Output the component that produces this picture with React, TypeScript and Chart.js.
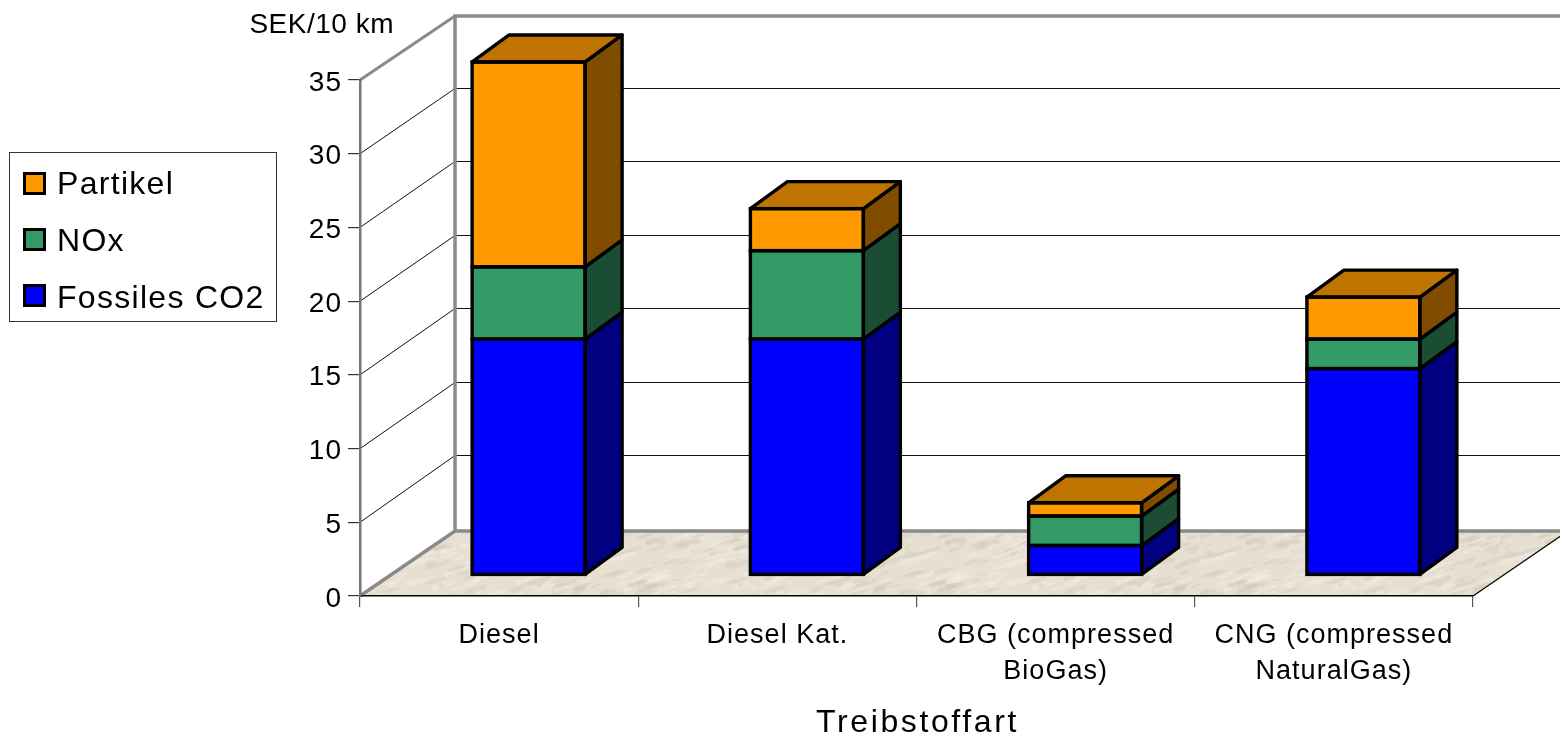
import React, { useEffect, useRef } from "react";
import { Chart, registerables } from "chart.js";

Chart.register(...registerables);

const categories = ["Diesel", "Diesel Kat.", ["CBG (compressed", "BioGas)"], ["CNG (compressed", "NaturalGas)"]];
const fossilCo2 = [16, 16, 2, 14];
const nox = [4.9, 6, 2, 2];
const partikel = [13.9, 2.85, 0.9, 2.85];
const yTickStep = 5;
const yMax = 35;
const yUnit = "SEK/10 km";
const xTitle = "Treibstoffart";

const FONT = '"Liberation Sans", Arial, sans-serif';
const WALL = { dx: 95, dy: -65 };
const BAR_SHIFT = { dx: 29.5, dy: -21 };
const BAR_DEPTH = { dx: 37, dy: -27 };
const GRAY = "#8a8a8a";
const EDGE = 3.4;

// Mottled floor fill, built from a fixed hash so each render is the same.
function floorPattern(ctx: CanvasRenderingContext2D) {
  const c = document.createElement("canvas");
  c.width = 300;
  c.height = 120;
  const p = c.getContext("2d")!;
  p.fillStyle = "#e6dfd2";
  p.fillRect(0, 0, 300, 120);
  const hash = (n: number) => {
    const v = Math.sin(n * 12.9898) * 43758.5453;
    return v - Math.floor(v);
  };
  for (let i = 0; i < 420; i++) {
    const x = hash(i) * 300;
    const y = hash(i + 1000) * 120;
    const w = 3 + hash(i + 2000) * 10;
    const tone = hash(i + 3000);
    p.fillStyle =
      tone > 0.5 ? "rgba(245,240,232,0.35)" : tone > 0.03 ? "rgba(205,195,178,0.3)" : "rgba(130,120,105,0.5)";
    p.beginPath();
    p.ellipse(x, y, tone > 0.03 ? w : 4, tone > 0.03 ? 1.2 + hash(i + 4000) * 1.6 : 1, -0.3, 0, Math.PI * 2);
    p.fill();
  }
  return ctx.createPattern(c, "repeat")!;
}

function line(ctx: CanvasRenderingContext2D, pts: number[][], color: string, width: number) {
  ctx.beginPath();
  pts.forEach(([x, y], i) => (i ? ctx.lineTo(x, y) : ctx.moveTo(x, y)));
  ctx.strokeStyle = color;
  ctx.lineWidth = width;
  ctx.stroke();
}

function face(ctx: CanvasRenderingContext2D, pts: number[][], fill: string) {
  ctx.beginPath();
  pts.forEach(([x, y], i) => (i ? ctx.lineTo(x, y) : ctx.moveTo(x, y)));
  ctx.closePath();
  ctx.fillStyle = fill;
  ctx.fill();
  ctx.strokeStyle = "#000";
  ctx.lineWidth = EDGE;
  ctx.lineJoin = "round";
  ctx.stroke();
}

const box3d = {
  id: "box3d",
  beforeDraw(chart: any) {
    const { ctx, chartArea: a, scales } = chart;
    (ctx as any).letterSpacing = "1px";
    ctx.save();
    const { dx, dy } = WALL;
    ctx.beginPath();
    ctx.moveTo(a.left, a.bottom);
    ctx.lineTo(a.left + dx, a.bottom + dy);
    ctx.lineTo(a.right + dx, a.bottom + dy);
    ctx.lineTo(a.right, a.bottom);
    ctx.closePath();
    ctx.fillStyle = floorPattern(ctx);
    ctx.fill();
    // Value gridlines run up the side wall and along the back wall.
    scales.y.ticks.forEach((t: any) => {
      if (t.value === 0 || t.value === yMax) return;
      const y = scales.y.getPixelForValue(t.value);
      const back = Math.floor(y - 67 + t.value * 0.06) + 0.5;
      line(ctx, [[a.left, y], [a.left + dx, back]], "#111", 1);
      line(ctx, [[a.left + dx, back], [a.right + dx, back]], "#111", 1.2);
    });
    line(ctx, [[a.left + dx, a.bottom + dy], [a.left + dx, a.top + dy + 1], [a.right + dx, a.top + dy + 1]], GRAY, 3.5);
    line(ctx, [[a.left, a.top], [a.left + dx, a.top + dy + 1]], GRAY, 3);
    line(ctx, [[a.left, a.bottom], [a.left + dx, a.bottom + dy], [a.right + dx, a.bottom + dy]], GRAY, 3.5);
    line(ctx, [[a.right, a.bottom], [a.right + dx, a.bottom + dy]], "#000", 1.2);
    ctx.restore();
  },
  beforeDatasetsDraw(chart: any) {
    chart.ctx.save();
    chart.ctx.translate(BAR_SHIFT.dx, BAR_SHIFT.dy);
  },
  afterDatasetsDraw(chart: any) {
    const { ctx } = chart;
    const { dx, dy } = BAR_DEPTH;
    chart.data.datasets.forEach((ds: any, di: number) => {
      chart.getDatasetMeta(di).data.forEach((bar: any) => {
        const l = bar.x - bar.width / 2;
        const r = bar.x + bar.width / 2;
        const t = bar.y;
        const b = bar.base;
        face(ctx, [[r, t], [r + dx, t + dy], [r + dx, b + dy], [r, b]], ds.sideColor);
        if (di === chart.data.datasets.length - 1) {
          face(ctx, [[l, t], [l + dx, t + dy], [r + dx, t + dy], [r, t]], ds.topColor);
        }
        ctx.strokeStyle = "#000";
        ctx.lineWidth = EDGE;
        ctx.lineJoin = "miter";
        ctx.strokeRect(l, t, r - l, b - t);
      });
    });
    ctx.restore();
  },
  afterDraw(chart: any) {
    const { ctx, chartArea: a } = chart;
    ctx.save();
    ctx.textBaseline = "middle";
    ctx.fillStyle = "#000";

    ctx.textAlign = "right";
    ctx.font = `28px ${FONT}`;
    (ctx as any).letterSpacing = "0.5px";
    ctx.fillText(yUnit, 394, 25);

    ctx.textAlign = "center";
    ctx.font = `32px ${FONT}`;
    (ctx as any).letterSpacing = "2.6px";
    ctx.fillText(xTitle, (a.left + a.right) / 2 + 1, 723);

    // Legend box, last series on top.
    ctx.fillStyle = "#fff";
    ctx.strokeStyle = "#333";
    ctx.lineWidth = 1;
    ctx.fillRect(9.5, 152.5, 267, 169);
    ctx.strokeRect(9.5, 152.5, 267, 169);
    ctx.textAlign = "left";
    (ctx as any).letterSpacing = "1.3px";
    const order = [...chart.data.datasets].reverse();
    order.forEach((ds: any, i: number) => {
      const cy = 183.5 + i * 56;
      ctx.fillStyle = ds.backgroundColor;
      ctx.fillRect(24.5, cy - 10, 20, 20);
      ctx.strokeStyle = "#000";
      ctx.lineWidth = 3;
      ctx.strokeRect(24.5, cy - 10, 20, 20);
      ctx.fillStyle = "#000";
      ctx.fillText(ds.label, 57, 185 + i * 57);
    });
    ctx.restore();
  },
};

export default function App() {
  const ref = useRef<HTMLCanvasElement>(null);
  useEffect(() => {
    document.body.style.margin = "0";
    const barOpts = { barPercentage: 0.406, categoryPercentage: 1, borderWidth: 0, clip: false };
    const chart = new Chart(ref.current!, {
      type: "bar",
      data: {
        labels: categories as any,
        datasets: [
          { label: "Fossiles CO2", data: fossilCo2, backgroundColor: "#0000ff", sideColor: "#000080", ...barOpts },
          { label: "NOx", data: nox, backgroundColor: "#339966", sideColor: "#1a4d33", ...barOpts },
          { label: "Partikel", data: partikel, backgroundColor: "#ff9900", sideColor: "#804d00", topColor: "#bf7300", ...barOpts },
        ] as any,
      },
      options: {
        responsive: false,
        animation: false,
        layout: { padding: { left: 300, top: 80, right: 87, bottom: 0 } },
        plugins: { legend: { display: false }, tooltip: { enabled: false } },
        scales: {
          x: {
            stacked: true,
            afterFit: (s: any) => { s.height = 139; },
            grid: { drawOnChartArea: false, drawTicks: true, tickLength: 11, color: "#555", lineWidth: 1.2 },
            border: { color: "#000", width: 1.5 },
            ticks: {
              color: "#000",
              padding: 11,
              maxRotation: 0,
              autoSkip: false,
              font: { family: FONT, size: 27, lineHeight: 36 / 27 },
            },
          },
          y: {
            stacked: true,
            min: 0,
            max: yMax,
            afterFit: (s: any) => { s.width = 60; },
            grid: { drawOnChartArea: false, drawTicks: true, tickLength: 12, color: "#333", lineWidth: 1.2 },
            border: { color: "#777", width: 2.5 },
            ticks: {
              stepSize: yTickStep,
              color: "#000",
              padding: 6,
              // The blank first line nudges each number down onto its tick.
              callback: (v: any) => ["", String(v)],
              font: { family: FONT, size: 28, lineHeight: 0.2 },
            },
          },
        },
      },
      plugins: [box3d],
    } as any);
    return () => chart.destroy();
  }, []);
  return <canvas ref={ref} width={1560} height={735} style={{ display: "block" }} />;
}
